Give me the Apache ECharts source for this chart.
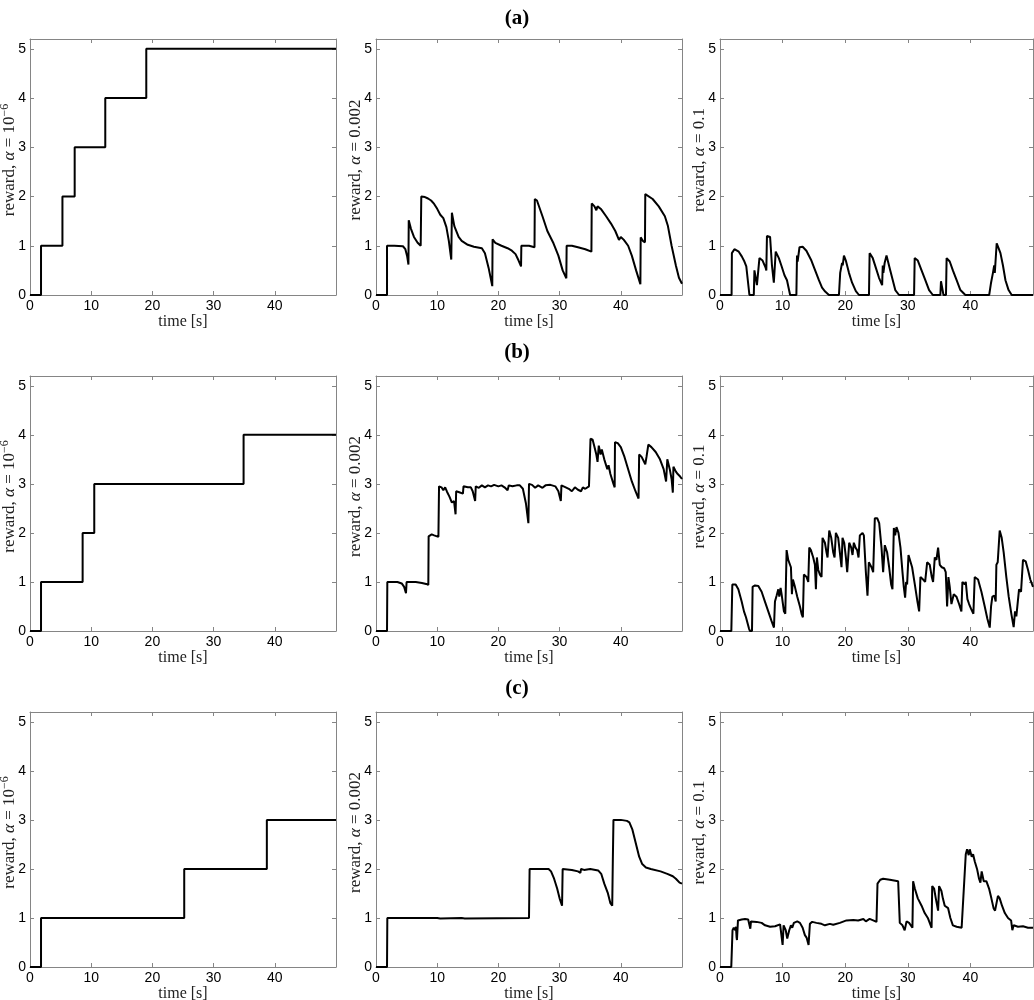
<!DOCTYPE html>
<html><head><meta charset="utf-8">
<script src="https://cdn.jsdelivr.net/npm/echarts@6/dist/echarts.min.js"></script>
<style>html,body{margin:0;padding:0;background:#fff}#c{width:1034px;height:1000px}</style>
</head><body><div id="c"></div>
<script>
// ---- data ----
const rowTitles = ['(a)', '(b)', '(c)'];
const xAxisName = 'time [s]';
const yAxisNames = [
  '{r|reward, }{i|α}{r| = 10}{s|−6}',
  '{r|reward, }{i|α}{r| = 0.002}',
  '{r|reward, }{i|α}{r| = 0.1}'
];

const a1 = [[0,0],[1.8,0],[1.8,1],[5.3,1],[5.3,2],[7.3,2],[7.3,3],[12.3,3],[12.3,4],[19.0,4],[19.0,5],[50,5]];
const a2 = [[0,0],[1.8,0],[1.8,1.0],[3.0,1.0],[4.4,0.99],[4.8,0.93],[5.1,0.78],[5.3,0.62],[5.35,1.52],[5.7,1.35],[6.2,1.18],[6.8,1.06],[7.3,1.0],[7.4,2.0],[8.0,1.99],[8.5,1.96],[9.0,1.92],[9.5,1.85],[10.0,1.75],[10.5,1.63],[11.0,1.56],[11.5,1.38],[11.9,1.1],[12.3,0.72],[12.4,1.67],[12.8,1.4],[13.5,1.18],[14.0,1.1],[15.0,1.02],[16.0,0.98],[17.3,0.95],[17.8,0.85],[18.4,0.55],[19.0,0.18],[19.05,1.13],[19.5,1.06],[20.5,1.0],[21.5,0.95],[22.2,0.9],[22.8,0.83],[23.3,0.7],[23.7,0.58],[23.75,1.0],[25.0,1.0],[25.9,0.97],[25.95,1.95],[26.3,1.92],[27.2,1.6],[28.0,1.3],[29.0,1.05],[29.8,0.8],[30.5,0.5],[31.1,0.34],[31.15,1.0],[32.0,1.0],[33.0,0.97],[34.2,0.93],[35.2,0.88],[35.25,1.86],[35.7,1.8],[36.0,1.72],[36.2,1.8],[36.8,1.74],[37.6,1.6],[38.4,1.45],[39.1,1.3],[39.7,1.12],[40.0,1.18],[40.5,1.12],[41.2,1.0],[41.8,0.8],[42.5,0.5],[43.2,0.22],[43.25,1.17],[43.6,1.1],[43.95,1.07],[44.0,2.05],[44.3,2.04],[45.2,1.95],[46.2,1.8],[47.2,1.6],[47.7,1.4],[48.3,1.0],[49.0,0.6],[49.5,0.35],[50,0.23]];
const a3 = [[0,0],[1.85,0],[1.9,0.85],[2.3,0.93],[2.5,0.96],[3.0,0.88],[3.5,0.78],[3.9,0.68],[4.2,0.58],[4.5,0.56],[4.7,0],[5.4,0],[5.5,0.5],[5.9,0.2],[6.3,0.75],[6.8,0.7],[7.3,0.55],[7.4,0.5],[7.5,1.2],[7.8,1.17],[8.0,1.18],[8.3,0.6],[8.6,0.25],[8.9,0.88],[9.4,0.75],[9.8,0.6],[10.3,0.4],[10.7,0.3],[11.2,0],[12.2,0],[12.3,0.8],[12.4,0.68],[12.7,0.97],[13.2,0.98],[13.8,0.9],[14.6,0.7],[15.2,0.5],[15.8,0.3],[16.3,0.15],[16.8,0.07],[17.1,0.06],[17.4,0],[19.0,0],[19.2,0.45],[19.5,0.65],[19.6,0.6],[19.8,0.8],[20.1,0.7],[20.6,0.45],[21.1,0.25],[21.7,0.08],[22.2,0],[23.8,0],[23.9,0.85],[24.4,0.75],[24.9,0.55],[25.4,0.35],[25.9,0.2],[26.0,0.6],[26.1,0.45],[26.3,0.65],[26.6,0.8],[26.8,0.7],[27.2,0.5],[27.6,0.3],[28.0,0.1],[28.6,0],[31.0,0],[31.1,0.75],[31.6,0.7],[32.2,0.5],[32.8,0.3],[33.4,0.1],[34.0,0],[35.2,0],[35.3,0.28],[35.7,0],[36.1,0],[36.2,0.75],[36.7,0.68],[37.2,0.5],[37.8,0.3],[38.4,0.1],[39.2,0],[43.0,0],[43.3,0.25],[43.6,0.45],[43.8,0.6],[43.9,0.45],[44.2,1.05],[44.5,0.95],[44.8,0.85],[45.2,0.6],[45.6,0.3],[46.1,0.1],[46.6,0],[50,0]];

const b1 = [[0,0],[1.8,0],[1.8,1],[8.6,1],[8.6,2],[10.5,2],[10.5,3],[34.9,3],[34.9,4],[50,4]];
const b2 = [[0,0],[1.8,0],[1.85,1.0],[3.5,1.0],[4.2,0.97],[4.6,0.9],[4.9,0.77],[5.0,1.0],[6.5,1.0],[7.5,0.98],[8.2,0.96],[8.55,0.94],[8.6,1.93],[8.9,1.93],[9.1,1.97],[9.5,1.95],[10.2,1.92],[10.3,2.95],[10.7,2.93],[11.0,2.87],[11.3,2.93],[11.6,2.84],[12.0,2.74],[12.4,2.62],[12.6,2.58],[12.75,2.65],[13.0,2.38],[13.1,2.85],[13.6,2.83],[14.2,2.8],[14.3,2.95],[15.0,2.93],[15.5,2.93],[15.8,2.85],[16.2,2.65],[16.3,2.95],[16.8,2.92],[17.3,2.97],[17.8,2.93],[18.3,2.97],[18.8,2.95],[19.3,2.98],[20.0,2.95],[20.5,2.97],[21.0,2.93],[21.5,2.87],[21.7,2.97],[22.3,2.95],[23.0,2.97],[23.5,2.97],[24.0,2.9],[24.5,2.6],[24.9,2.2],[25.0,3.0],[25.5,2.98],[26.0,2.92],[26.5,2.97],[27.2,2.92],[27.7,2.97],[28.5,2.98],[29.3,2.95],[29.8,2.85],[30.2,2.65],[30.3,2.97],[31.0,2.93],[31.5,2.9],[32.0,2.85],[32.5,2.93],[33.0,2.88],[33.5,2.85],[33.8,2.93],[34.2,2.9],[34.5,2.88],[34.8,2.95],[35.0,2.96],[35.05,3.92],[35.4,3.9],[35.7,3.75],[36.0,3.6],[36.2,3.45],[36.4,3.78],[36.7,3.6],[36.9,3.7],[37.3,3.5],[37.8,3.3],[38.0,3.38],[38.3,3.2],[38.8,3.0],[39.0,2.93],[39.05,3.85],[39.5,3.83],[40.0,3.75],[40.6,3.55],[41.2,3.3],[41.8,3.05],[42.4,2.85],[42.9,2.7],[43.0,3.6],[43.4,3.55],[43.8,3.45],[44.0,3.4],[44.2,3.55],[44.5,3.8],[45.0,3.75],[45.7,3.65],[46.4,3.5],[47.0,3.3],[47.4,3.05],[47.6,3.5],[48.0,3.3],[48.3,3.1],[48.5,2.82],[48.6,3.35],[49.0,3.25],[49.3,3.2],[49.5,3.22],[49.7,3.15],[50,3.1]];
const b3 = [[0,0],[1.81,0],[1.97,0.95],[2.5,0.95],[2.93,0.85],[3.46,0.6],[3.83,0.4],[4.15,0.28],[4.41,0.25],[4.63,0.05],[4.79,0],[5.11,0],[5.21,0.9],[5.59,0.93],[6.12,0.92],[6.65,0.8],[7.18,0.6],[7.71,0.4],[8.24,0.2],[8.62,0.07],[8.78,0.6],[9.04,0.72],[9.31,0.85],[9.47,0.7],[9.68,0.88],[9.84,0.75],[10.0,0.6],[10.21,0.4],[10.43,0.35],[10.64,1.65],[10.9,1.45],[11.17,1.47],[11.33,1.3],[11.49,0.75],[11.65,1.05],[11.97,0.9],[12.34,0.7],[12.77,0.5],[13.03,0.35],[13.24,0.28],[13.4,1.15],[13.83,1.1],[14.1,1.0],[14.26,1.7],[14.52,1.65],[14.89,1.5],[15.16,1.35],[15.32,0.85],[15.48,1.5],[15.69,1.25],[15.96,1.15],[16.22,1.1],[16.38,1.9],[16.76,1.8],[17.02,1.6],[17.18,1.5],[17.45,2.05],[17.77,1.9],[18.09,1.6],[18.3,1.5],[18.51,2.0],[18.88,1.9],[19.15,1.6],[19.41,1.3],[19.57,1.9],[19.84,1.8],[20.11,1.5],[20.32,1.2],[20.64,1.8],[20.96,1.7],[21.17,1.55],[21.38,1.8],[21.65,1.7],[21.91,1.65],[22.13,1.5],[22.34,1.95],[22.77,2.0],[22.98,1.95],[23.3,1.2],[23.56,0.72],[23.78,1.4],[24.2,1.3],[24.47,1.2],[24.73,2.3],[25.11,2.3],[25.43,2.2],[25.8,1.7],[26.06,1.2],[26.33,1.75],[26.7,1.6],[27.02,1.3],[27.34,0.95],[27.55,0.85],[27.77,2.1],[27.98,1.95],[28.19,2.12],[28.51,2.0],[28.83,1.7],[29.15,1.2],[29.36,0.9],[29.57,0.68],[29.73,1.0],[29.89,0.95],[30.11,1.55],[30.32,1.55],[30.69,1.3],[31.12,0.95],[31.54,0.6],[31.81,0.4],[32.02,1.1],[32.45,1.05],[32.77,1.0],[33.09,1.4],[33.51,1.35],[33.83,1.1],[34.04,1.0],[34.31,1.5],[34.57,1.45],[34.84,1.7],[35.11,1.35],[35.43,1.3],[35.8,1.28],[36.06,1.2],[36.28,0.5],[36.49,1.1],[36.7,0.9],[36.97,0.55],[37.34,0.75],[37.77,0.7],[38.19,0.55],[38.56,0.4],[38.72,1.0],[39.1,0.95],[39.26,1.0],[39.52,0.65],[39.79,0.55],[40.11,0.45],[40.48,0.35],[40.69,1.1],[41.22,1.05],[41.76,0.8],[42.29,0.5],[42.71,0.25],[43.09,0.07],[43.3,0.5],[43.51,0.7],[43.83,0.72],[44.04,0.6],[44.15,1.35],[44.36,1.4],[44.68,2.05],[45.0,1.9],[45.32,1.6],[45.74,1.1],[46.12,0.7],[46.54,0.35],[46.91,0.08],[47.13,0.4],[47.34,0.3],[47.77,0.85],[48.09,0.8],[48.4,1.45],[48.83,1.42],[49.2,1.25],[49.57,1.05],[50,0.9]];

const c1 = [[0,0],[1.8,0],[1.8,1],[25.2,1],[25.2,2],[38.7,2],[38.7,3],[50,3]];
const c2 = [[0,0],[1.8,0],[1.85,1.0],[10,1.0],[10.5,0.99],[14,1.0],[14.5,0.99],[25.0,1.0],[25.1,2.0],[28.2,2.0],[28.6,1.95],[29.1,1.8],[29.6,1.6],[30.0,1.4],[30.4,1.25],[30.5,2.0],[32.0,1.98],[33.0,1.95],[33.4,1.92],[33.5,2.0],[34.0,1.98],[35.0,2.0],[36.3,1.97],[36.8,1.9],[37.3,1.7],[37.9,1.5],[38.3,1.3],[38.6,1.25],[38.7,2.2],[38.8,3.0],[40.0,3.0],[41.0,2.98],[41.4,2.95],[41.9,2.8],[42.5,2.5],[43.0,2.25],[43.5,2.1],[44.1,2.03],[44.9,2.0],[46.5,1.95],[47.6,1.9],[48.5,1.85],[49.0,1.8],[49.6,1.72],[50,1.7]];
const c3 = [[0,0],[1.8,0],[2.0,0.75],[2.2,0.8],[2.45,0.75],[2.55,0.82],[2.65,0.6],[2.71,0.55],[2.87,0.95],[3.46,0.97],[4.0,0.98],[4.5,0.97],[4.7,0.93],[4.84,0.78],[4.95,0.93],[5.85,0.92],[6.65,0.9],[7.2,0.85],[8.0,0.82],[8.8,0.83],[9.6,0.87],[9.84,0.85],[10.0,0.45],[10.16,0.85],[10.5,0.75],[10.74,0.58],[11.06,0.75],[11.33,0.85],[11.54,0.8],[11.8,0.9],[12.34,0.93],[12.77,0.9],[13.2,0.8],[13.56,0.65],[13.83,0.6],[14.15,0.45],[14.36,0.88],[14.73,0.92],[15.4,0.9],[16.2,0.88],[16.76,0.85],[17.55,0.88],[18.09,0.86],[19.15,0.9],[20.2,0.95],[21.3,0.96],[22.07,0.95],[22.9,0.98],[23.3,0.93],[23.9,0.98],[24.47,0.95],[25.0,0.92],[25.16,1.7],[25.6,1.78],[26.06,1.8],[27.13,1.78],[28.46,1.75],[28.72,0.9],[29.15,0.85],[29.5,0.75],[29.8,0.93],[30.21,0.9],[30.74,0.8],[30.85,1.75],[31.12,1.6],[31.6,1.4],[32.2,1.25],[32.7,1.1],[33.2,1.0],[33.8,0.8],[33.9,1.65],[34.2,1.6],[34.47,1.4],[34.84,1.15],[35.0,1.65],[35.37,1.55],[35.6,1.4],[35.9,1.25],[36.44,1.2],[36.8,1.0],[37.2,0.85],[37.8,0.82],[38.6,0.8],[38.9,0.8],[39.26,2.3],[39.47,2.4],[39.73,2.28],[39.9,2.4],[40.21,2.25],[40.43,2.3],[40.7,2.15],[41.06,2.0],[41.38,1.8],[41.6,1.72],[41.8,1.95],[42.13,1.75],[42.55,1.75],[42.98,1.6],[43.35,1.4],[43.7,1.2],[43.94,1.15],[44.4,1.45],[44.68,1.4],[45.05,1.25],[45.5,1.1],[46.01,1.0],[46.5,0.95],[46.7,0.75],[46.91,0.85],[47.6,0.82],[48.4,0.83],[49.2,0.8],[50,0.8]];

const panels = [[a1, a2, a3], [b1, b2, b3], [c1, c2, c3]];

// ---- layout ----
const colBox = [{ left: 30, width: 306 }, { left: 376, width: 306 }, { left: 720, width: 313 }];
const rowBox = [{ top: 39, height: 256 }, { top: 376, height: 255 }, { top: 712, height: 255 }];
const titleTops = [3, 337, 673];

const boxColor = '#858585';
const serif = '"Liberation Serif", "DejaVu Serif", serif';
const sans = '"Liberation Sans", Arial, sans-serif';

const grid = [], xAxis = [], yAxis = [], series = [], title = [];
rowTitles.forEach((t, r) => {
  title.push({ text: t, left: 'center', top: titleTops[r],
    textStyle: { fontFamily: serif, fontWeight: 'bold', fontSize: 21, color: '#000' } });
});

let gi = 0;
for (let r = 0; r < 3; r++) {
  for (let c = 0; c < 3; c++) {
    grid.push({ left: colBox[c].left, top: rowBox[r].top, width: colBox[c].width, height: rowBox[r].height,
      containLabel: false, outerBoundsMode: 'none' });
    const baseX = {
      type: 'value', gridIndex: gi, min: 0, max: 50, interval: 10,
      axisLine: { show: true, onZero: false, lineStyle: { color: boxColor, width: 1 } },
      axisTick: { show: true, inside: true, length: 4, lineStyle: { color: boxColor } },
      splitLine: { show: false }
    };
    xAxis.push(Object.assign({}, baseX, {
      position: 'bottom',
      axisLabel: { show: true, margin: 4, fontFamily: sans, fontSize: 14, color: '#000', showMaxLabel: false },
      name: xAxisName, nameLocation: 'middle', nameGap: 19, nameMoveOverlap: false,
      nameTextStyle: { fontFamily: serif, fontSize: 16, color: '#222' }
    }));
    xAxis.push(Object.assign({}, baseX, { position: 'top', axisLabel: { show: false } }));
    const baseY = {
      type: 'value', gridIndex: gi, min: 0, max: 5.2, interval: 1,
      axisLine: { show: true, onZero: false, lineStyle: { color: boxColor, width: 1 } },
      axisTick: { show: true, inside: true, length: 4, lineStyle: { color: boxColor } },
      splitLine: { show: false }
    };
    yAxis.push(Object.assign({}, baseY, {
      position: 'left',
      axisLabel: { show: true, margin: 4, fontFamily: sans, fontSize: 14, color: '#000', showMaxLabel: false },
      name: yAxisNames[c], nameLocation: 'middle', nameGap: 9, nameMoveOverlap: false,
      nameTextStyle: {
        padding: [0, 0, 0, 14],
        rich: {
          r: { fontFamily: serif, fontSize: 17, color: '#222', lineHeight: 22 },
          i: { fontFamily: serif, fontSize: 17, fontStyle: 'italic', color: '#222', lineHeight: 22 },
          s: { fontFamily: serif, fontSize: 12, color: '#222', lineHeight: 13, verticalAlign: 'top' }
        }
      }
    }));
    yAxis.push(Object.assign({}, baseY, { position: 'right', axisLabel: { show: false } }));
    series.push({
      type: 'line', xAxisIndex: 2 * gi, yAxisIndex: 2 * gi,
      data: panels[r][c], showSymbol: false, symbol: 'none',
      lineStyle: { color: '#000', width: 2 }, animation: false, silent: true
    });
    gi++;
  }
}

const chart = echarts.init(document.getElementById('c'), null, { renderer: 'canvas' });
chart.setOption({ backgroundColor: '#fff', animation: false, title, grid, xAxis, yAxis, series });
</script>
</body></html>
